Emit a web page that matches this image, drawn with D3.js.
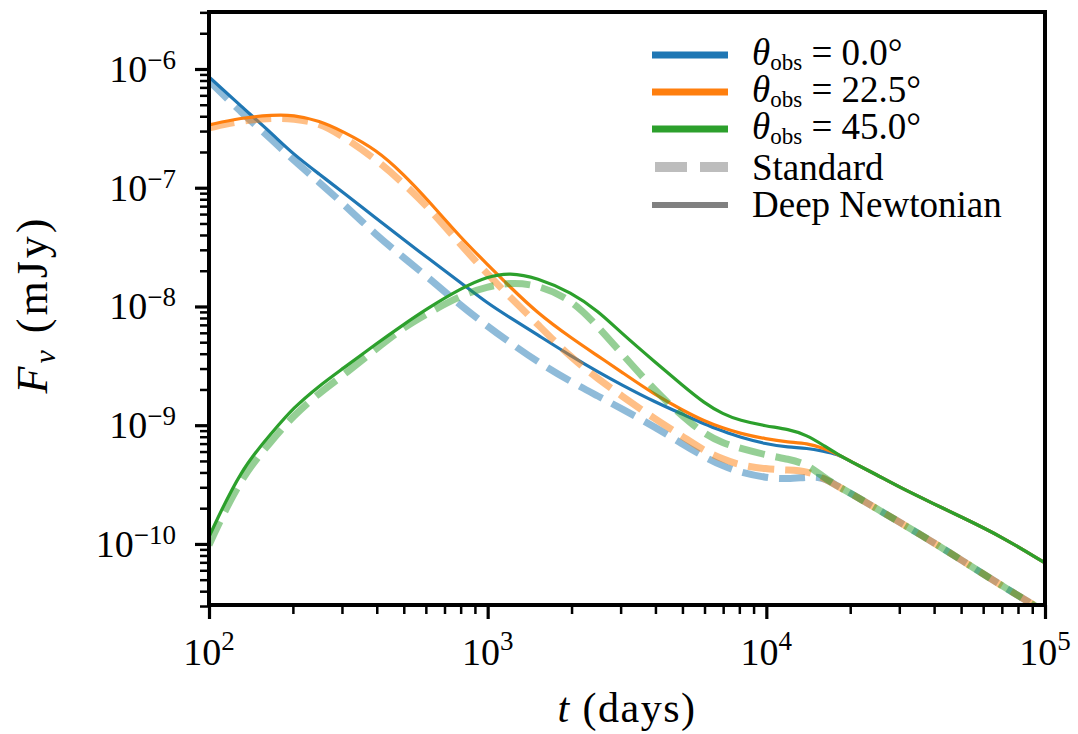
<!DOCTYPE html>
<html>
<head>
<meta charset="utf-8">
<script src="https://cdn.jsdelivr.net/npm/d3@7"></script>
<style>
  html, body { margin: 0; padding: 0; background: #ffffff; }
  svg { display: block; }
  text { font-family: "Liberation Serif", "Times New Roman", serif; fill: #000; }
</style>
</head>
<body>
<svg id="chart" width="1078" height="734"></svg>
<script>
// Observer times (days) before and after the late-time merge of the curves
const tEarly = [100, 130, 170, 200, 250, 300, 400, 500, 600, 800, 1000, 1200, 1500,
                2000, 2500, 3000, 4000, 5000, 6000, 7000, 8000, 10000, 12000, 14000, 16000];
const tLate = [18000, 20000, 25000, 30000, 40000, 50000, 70000, 100000];

// Deep Newtonian light curves (mJy)
const deepNewtonian0 = [8.57e-7, 4.89e-7, 2.79e-7, 1.93e-7, 1.29e-7, 9.26e-8, 5.49e-8, 3.66e-8, 2.63e-8, 1.59e-8, 1.06e-8, 8.08e-9, 5.82e-9,
                        3.80e-9, 2.79e-9, 2.21e-9, 1.56e-9, 1.24e-9, 1.02e-9, 8.90e-10, 7.93e-10, 6.92e-10, 6.53e-10, 6.41e-10, 6.05e-10];
const deepNewtonian22 = [3.38e-7, 3.88e-7, 4.11e-7, 4.11e-7, 3.66e-7, 3.01e-7, 2.09e-7, 1.29e-7, 8.24e-8, 3.80e-8, 2.25e-8, 1.47e-8, 8.90e-9,
                         5.39e-9, 3.80e-9, 2.84e-9, 1.79e-9, 1.34e-9, 1.08e-9, 9.44e-10, 8.57e-10, 7.63e-10, 7.20e-10, 7.06e-10, 6.41e-10];
const deepNewtonian45 = [1.15e-10, 4.27e-10, 8.90e-10, 1.39e-9, 2.17e-9, 2.96e-9, 4.89e-9, 7.06e-9, 9.44e-9, 1.42e-8, 1.79e-8, 1.93e-8, 1.75e-8,
                         1.31e-8, 9.08e-9, 6.05e-9, 3.38e-9, 2.17e-9, 1.53e-9, 1.24e-9, 1.10e-9, 9.81e-10, 9.26e-10, 8.24e-10, 6.79e-10];
const deepNewtonianLate = [5.71e-10, 4.98e-10, 3.80e-10, 3.01e-10, 2.17e-10, 1.69e-10, 1.15e-10, 6.92e-11];

// Standard light curves (mJy)
const standard0 = [7.93e-7, 4.35e-7, 2.48e-7, 1.72e-7, 1.10e-7, 7.48e-8, 3.95e-8, 2.58e-8, 1.82e-8, 1.02e-8, 6.79e-9, 4.98e-9, 3.45e-9,
                   2.30e-9, 1.75e-9, 1.39e-9, 9.62e-10, 6.92e-10, 5.39e-10, 4.52e-10, 4.03e-10, 3.59e-10, 3.52e-10, 3.66e-10, 3.66e-10];
const standard22 = [3.19e-7, 3.66e-7, 3.88e-7, 3.80e-7, 3.52e-7, 2.74e-7, 1.72e-7, 1.08e-7, 7.20e-8, 3.32e-8, 1.86e-8, 1.21e-8, 7.20e-9,
                    3.66e-9, 2.44e-9, 1.79e-9, 1.12e-9, 8.08e-10, 6.05e-10, 5.18e-10, 4.61e-10, 4.27e-10, 4.19e-10, 4.11e-10, 3.59e-10];
const standard45 = [9.81e-11, 3.66e-10, 7.63e-10, 1.19e-9, 1.89e-9, 2.58e-9, 4.44e-9, 6.66e-9, 8.57e-9, 1.24e-8, 1.47e-8, 1.59e-8, 1.53e-8,
                    1.15e-8, 6.66e-9, 4.11e-9, 1.93e-9, 1.19e-9, 8.40e-10, 7.06e-10, 6.41e-10, 5.60e-10, 5.18e-10, 4.70e-10, 3.66e-10];
const standardLate = [3.07e-10, 2.68e-10, 1.97e-10, 1.53e-10, 1.02e-10, 7.34e-11, 4.44e-11, 2.68e-11];

const angles = ["0.0", "22.5", "45.0"];
const colors = ["#1f77b4", "#ff7f0e", "#2ca02c"];
const xTickPowers = [2, 3, 4, 5];
const yTickPowers = [-10, -9, -8, -7, -6];

const times = tEarly.concat(tLate);
const toPoints = vals => times.map((t, i) => ({ t, v: vals[i] }));
const series = [
  { angle: 0, kind: "dn",  values: deepNewtonian0.concat(deepNewtonianLate) },
  { angle: 0, kind: "std", values: standard0.concat(standardLate) },
  { angle: 1, kind: "dn",  values: deepNewtonian22.concat(deepNewtonianLate) },
  { angle: 1, kind: "std", values: standard22.concat(standardLate) },
  { angle: 2, kind: "dn",  values: deepNewtonian45.concat(deepNewtonianLate) },
  { angle: 2, kind: "std", values: standard45.concat(standardLate) }
];

const svg = d3.select("#chart");
const plot = { left: 209, right: 1045, top: 12, bottom: 605 };

const x = d3.scaleLog().domain([1e2, 1e5]).range([plot.left, plot.right]);
const y = d3.scaleLog().domain([3.06e-11, 3.02e-6]).range([plot.bottom, plot.top]);

svg.append("defs").append("clipPath").attr("id", "plot-clip")
  .append("rect")
  .attr("x", plot.left).attr("y", plot.top)
  .attr("width", plot.right - plot.left).attr("height", plot.bottom - plot.top);

// Curves (B-spline through the sampled light curves)
const line = d3.line().x(d => x(d.t)).y(d => y(d.v)).curve(d3.curveBasis);
const curves = svg.append("g").attr("clip-path", "url(#plot-clip)");
series.forEach(s => {
  const path = curves.append("path")
    .datum(toPoints(s.values))
    .attr("d", line)
    .attr("fill", "none")
    .attr("stroke", colors[s.angle]);
  if (s.kind === "std") {
    path.attr("stroke-width", 7).attr("stroke-opacity", 0.5).attr("stroke-dasharray", "26,11");
  } else {
    path.attr("stroke-width", 3.2);
  }
});

// Tick values
const minorTicks = (lo, hi) => {
  const out = [];
  for (let p = lo; p <= hi; p++) for (let m = 2; m <= 9; m++) out.push(m * Math.pow(10, p));
  return out;
};
const yDom = y.domain();
const xMinor = minorTicks(2, 4);
const yMinor = minorTicks(-11, -6).filter(v => v >= yDom[0] * 0.98 && v <= yDom[1] * 1.01);

const axes = svg.append("g");
function drawAxis(axisGen, transform, width) {
  const g = axes.append("g").attr("transform", transform).call(axisGen);
  g.select(".domain").remove();
  g.selectAll(".tick line").attr("stroke", "#000").attr("stroke-width", width);
  g.selectAll(".tick text").remove();
  return g;
}
drawAxis(d3.axisBottom(x).tickValues(xTickPowers.map(p => Math.pow(10, p))).tickSize(14),
         `translate(0,${plot.bottom})`, 3.2);
drawAxis(d3.axisBottom(x).tickValues(xMinor).tickSize(9), `translate(0,${plot.bottom})`, 2.5);
drawAxis(d3.axisLeft(y).tickValues(yTickPowers.map(p => Math.pow(10, p))).tickSize(14),
         `translate(${plot.left},0)`, 3.2);
drawAxis(d3.axisLeft(y).tickValues(yMinor).tickSize(9), `translate(${plot.left},0)`, 2.5);

// Frame
svg.append("rect")
  .attr("x", plot.left).attr("y", plot.top)
  .attr("width", plot.right - plot.left).attr("height", plot.bottom - plot.top)
  .attr("fill", "none").attr("stroke", "#000").attr("stroke-width", 4);

// Power-of-ten tick labels
xTickPowers.forEach(p => {
  const t = svg.append("text")
    .attr("x", x(Math.pow(10, p))).attr("y", 665)
    .attr("text-anchor", "middle").attr("font-size", 38);
  t.append("tspan").text("10");
  t.append("tspan").attr("dy", -15).attr("font-size", 27).text(String(p));
});
yTickPowers.forEach(p => {
  const t = svg.append("text")
    .attr("x", 176).attr("y", y(Math.pow(10, p)) + 13)
    .attr("text-anchor", "end").attr("font-size", 38);
  t.append("tspan").text("10");
  t.append("tspan").attr("dy", -13).attr("font-size", 27).text("\u2212" + Math.abs(p));
});

// Axis titles
const xt = svg.append("text").attr("x", (plot.left + plot.right) / 2).attr("y", 722)
  .attr("text-anchor", "middle").attr("font-size", 42).attr("letter-spacing", 1.5);
xt.append("tspan").attr("font-style", "italic").text("t");
xt.append("tspan").text(" (days)");

const yt = svg.append("text")
  .attr("transform", `translate(47,${(plot.top + plot.bottom) / 2 - 4}) rotate(-90)`)
  .attr("text-anchor", "middle").attr("font-size", 44).attr("letter-spacing", 3);
yt.append("tspan").attr("font-style", "italic").text("F");
yt.append("tspan").attr("font-style", "italic").attr("font-size", 30).attr("dy", 8).text("\u03bd");
yt.append("tspan").attr("dy", -8).text(" (mJy)");

// Legend
const legend = svg.append("g");
const legendRows = [55, 92, 129, 167, 205];
const handleX0 = 652, handleX1 = 728, labelX = 752;
angles.forEach((a, i) => {
  legend.append("line")
    .attr("x1", handleX0).attr("x2", handleX1)
    .attr("y1", legendRows[i]).attr("y2", legendRows[i])
    .attr("stroke", colors[i]).attr("stroke-width", 7);
  const t = legend.append("text").attr("x", labelX).attr("y", legendRows[i] + 10).attr("font-size", 37);
  t.append("tspan").attr("font-style", "italic").text("\u03b8");
  t.append("tspan").attr("font-size", 23).attr("dy", 5).text("obs");
  t.append("tspan").attr("dy", -5).text(" = " + a + "\u00b0");
});
legend.append("line")
  .attr("x1", handleX0 + 3).attr("x2", handleX1)
  .attr("y1", legendRows[3]).attr("y2", legendRows[3])
  .attr("stroke", "#bdbdbd").attr("stroke-width", 10).attr("stroke-dasharray", "32,13");
legend.append("text").attr("x", labelX).attr("y", legendRows[3] + 13).attr("font-size", 37).text("Standard");
legend.append("line")
  .attr("x1", handleX0).attr("x2", handleX1)
  .attr("y1", legendRows[4]).attr("y2", legendRows[4])
  .attr("stroke", "#808080").attr("stroke-width", 6);
legend.append("text").attr("x", labelX).attr("y", legendRows[4] + 12).attr("font-size", 37).text("Deep Newtonian");
</script>
</body>
</html>
